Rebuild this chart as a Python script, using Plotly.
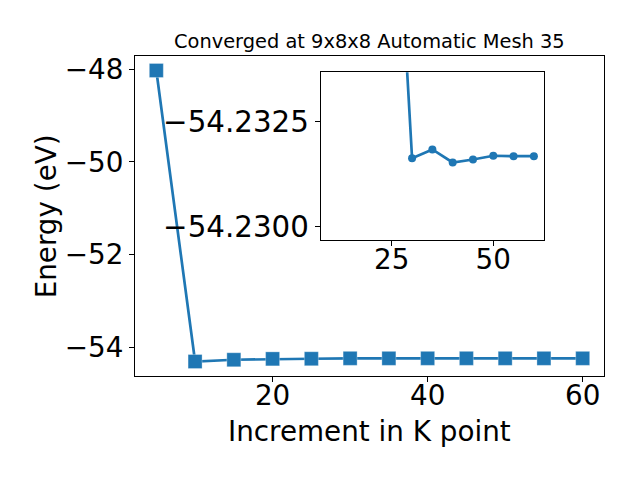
import plotly.graph_objects as go

kpoints = [5, 10, 15, 20, 25, 30, 35, 40, 45, 50, 55, 60]
energy = [-48.03, -54.30, -54.262, -54.243, -54.2401, -54.23163, -54.23184,
          -54.23153, -54.23160, -54.23169, -54.23168, -54.23168]
title_text = "Converged at 9x8x8 Automatic Mesh 35"
main_yticks = [-54, -52, -50, -48]
main_xticks = [20, 40, 60]
inset_yticks = [-54.2325, -54.2300]
inset_ytext = ["\u221254.2325", "\u221254.2300"]
inset_xticks = [25, 50]

C = "#1f77b4"
FONT = "DejaVu Sans"
fig = go.Figure()
fig.add_trace(go.Scatter(x=kpoints, y=energy, mode="lines+markers",
                         line=dict(color=C, width=2.7),
                         marker=dict(symbol="square", size=14, color=C,
                                     line=dict(color="rgba(255,255,255,0.5)", width=0.6)),
                         xaxis="x", yaxis="y", showlegend=False))
# inset: zoom on the converged points (from 10 onward)
fig.add_trace(go.Scatter(x=kpoints[1:], y=energy[1:], mode="lines+markers",
                         line=dict(color=C, width=2.7),
                         marker=dict(symbol="circle", size=8, color=C),
                         xaxis="x2", yaxis="y2", showlegend=False))

axstyle = dict(showline=True, linecolor="black", linewidth=1.1, mirror=True,
               ticks="outside", ticklen=5, tickwidth=1.1, tickcolor="black",
               showgrid=False, zeroline=False, automargin=False)
tf = dict(family=FONT, size=27.8, color="black")

# page body has an 8px margin; shrink the figure accordingly
fig.update_layout(
    template="none",
    width=632, height=472,
    margin=dict(l=127, r=36, t=48, b=104),
    paper_bgcolor="white", plot_bgcolor="white",
    font=dict(family=FONT, color="black"),
    xaxis=dict(domain=[0, 1], range=[2.25, 62.75], tickvals=main_xticks, anchor="y",
               ticklabelstandoff=-10, tickfont=tf, **axstyle),
    yaxis=dict(domain=[0, 1], range=[-54.612, -47.718], tickvals=main_yticks, anchor="x",
               tickfont=tf, **axstyle),
    xaxis2=dict(domain=[0.396, 0.873], range=[7.5, 62.6], tickvals=inset_xticks, anchor="y2",
                ticklabelstandoff=-10, tickfont=tf, **axstyle),
    yaxis2=dict(domain=[0.425, 0.949], range=[-54.22969, -54.23367], tickvals=inset_yticks,
                ticktext=inset_ytext, anchor="x2",
                tickfont=dict(family=FONT, size=29.3, color="black"), **axstyle),
    annotations=[
        dict(text=title_text, xref="paper", yref="paper", x=0.5, y=1, yanchor="bottom",
             yshift=1, showarrow=False, font=dict(family=FONT, size=19.4, color="black")),
        dict(text="Increment in K point", xref="paper", yref="paper", x=0.5, y=-0.172,
             yanchor="middle", showarrow=False, font=dict(family=FONT, size=27.8, color="black")),
        dict(text="Energy (eV)", xref="paper", yref="paper", x=-0.189, y=0.5, textangle=-90,
             xanchor="center", yanchor="middle", showarrow=False,
             font=dict(family=FONT, size=27.8, color="black")),
    ],
)

fig.write_html("out.html")
